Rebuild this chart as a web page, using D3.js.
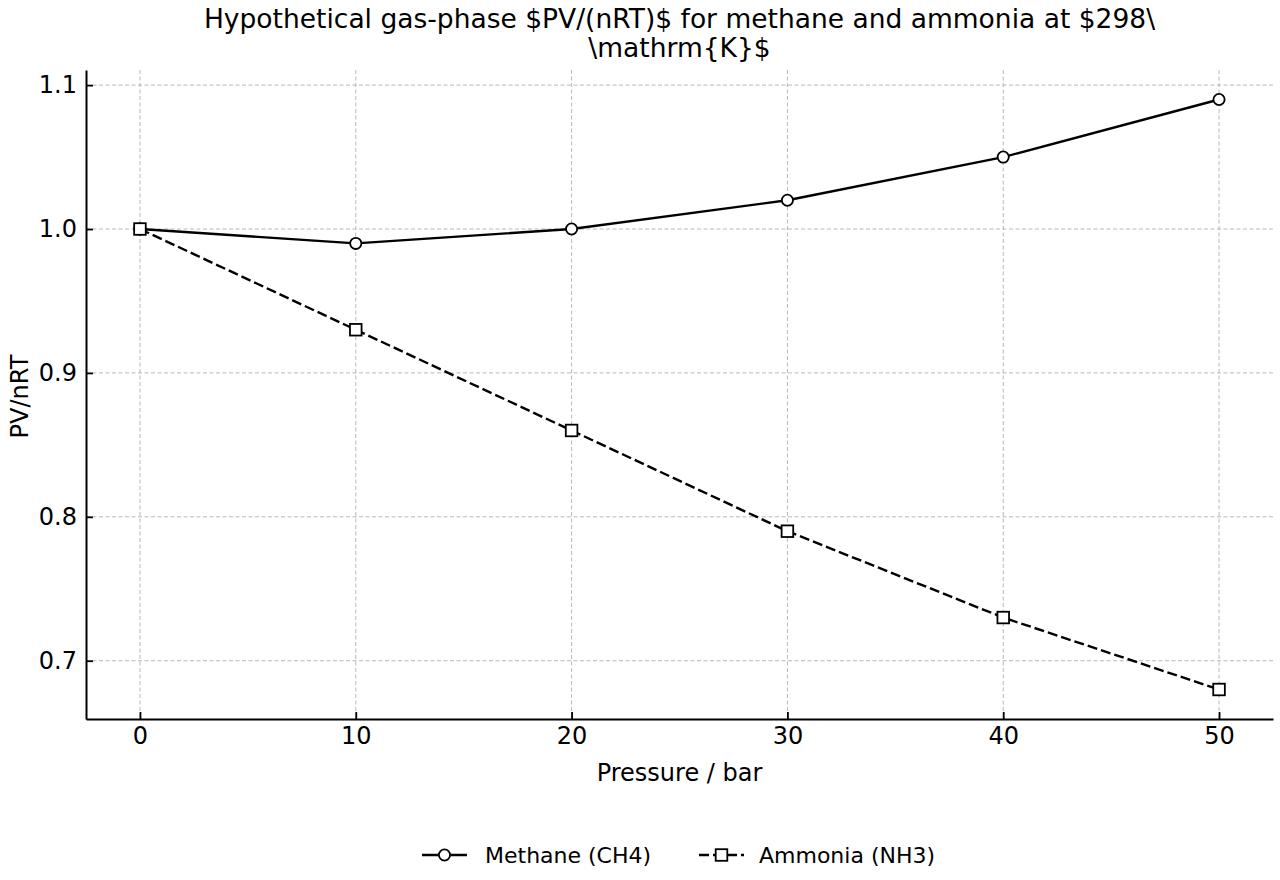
<!DOCTYPE html>
<html>
<head>
<meta charset="utf-8">
<script src="https://cdn.jsdelivr.net/npm/d3@7"></script>
<style>
  body { margin: 0; background: #fff; }
  svg text { font-family: "DejaVu Sans", sans-serif; fill: #000; }
</style>
</head>
<body>
<div id="chart"></div>
<script>
// 資料
const pressures = [0, 10, 20, 30, 40, 50];
const methane = [1.00, 0.99, 1.00, 1.02, 1.05, 1.09];
const ammonia = [1.00, 0.93, 0.86, 0.79, 0.73, 0.68];
const xTicks = [0, 10, 20, 30, 40, 50];
const yTicks = [0.7, 0.8, 0.9, 1.0, 1.1];
const titleLines = ["Hypothetical gas-phase $PV/(nRT)$ for methane and ammonia at $298\\", "\\mathrm{K}$"];

const W = 1280, H = 880;
const margin = { left: 86, right: 7, top: 70, bottom: 161 };
const lineW = 2.4;
const dash = '10,4';

const svg = d3.select('#chart').append('svg')
    .attr('width', W)
    .attr('height', H);

const x = d3.scaleLinear().domain([-2.5, 52.5]).range([margin.left, W - margin.right]);
const y = d3.scaleLinear().domain([0.6595, 1.1105]).range([H - margin.bottom, margin.top]);

// 格線
const grid = svg.append('g').attr('class', 'grid');
xTicks.forEach(t => {
    grid.append('line')
        .attr('x1', x(t)).attr('x2', x(t))
        .attr('y1', margin.top).attr('y2', H - margin.bottom)
        .attr('stroke', '#b8b8b8').attr('stroke-width', 1)
        .attr('stroke-dasharray', '4,2.5');
});
yTicks.forEach(t => {
    grid.append('line')
        .attr('x1', margin.left).attr('x2', W - margin.right)
        .attr('y1', y(t)).attr('y2', y(t))
        .attr('stroke', '#b8b8b8').attr('stroke-width', 1)
        .attr('stroke-dasharray', '4,2.5');
});

// 座標軸 (刻度朝內)
const xAxis = svg.append('g')
    .attr('transform', `translate(0,${H - margin.bottom})`)
    .call(d3.axisBottom(x).tickValues(xTicks).tickSizeInner(-7).tickSizeOuter(0).tickPadding(8));
const yAxis = svg.append('g')
    .attr('transform', `translate(${margin.left},0)`)
    .call(d3.axisLeft(y).tickValues(yTicks).tickFormat(d3.format('.1f')).tickSizeInner(-7).tickSizeOuter(0).tickPadding(9));

[xAxis, yAxis].forEach(a => {
    a.attr('font-size', 24).attr('font-family', '"DejaVu Sans", sans-serif');
    a.select('.domain').attr('stroke', '#000').attr('stroke-width', 2);
    a.selectAll('.tick line').attr('stroke', '#000').attr('stroke-width', 1.8);
    a.selectAll('.tick text').attr('font-size', 24);
});

// 折線
const line = d3.line()
    .x((d, i) => x(pressures[i]))
    .y(d => y(d));

svg.append('path')
    .datum(methane)
    .attr('d', line)
    .attr('fill', 'none')
    .attr('stroke', '#000')
    .attr('stroke-width', lineW);

svg.append('path')
    .datum(ammonia)
    .attr('d', line)
    .attr('fill', 'none')
    .attr('stroke', '#000')
    .attr('stroke-width', lineW)
    .attr('stroke-dasharray', dash);

// 標記
svg.append('g').selectAll('circle')
    .data(methane)
    .enter()
    .append('circle')
    .attr('cx', (d, i) => x(pressures[i]))
    .attr('cy', d => y(d))
    .attr('r', 5.6)
    .attr('fill', '#fff')
    .attr('stroke', '#000')
    .attr('stroke-width', 1.8);

svg.append('g').selectAll('rect')
    .data(ammonia)
    .enter()
    .append('rect')
    .attr('x', (d, i) => x(pressures[i]) - 5.8)
    .attr('y', d => y(d) - 5.8)
    .attr('width', 11.6)
    .attr('height', 11.6)
    .attr('fill', '#fff')
    .attr('stroke', '#000')
    .attr('stroke-width', 1.8);

// 標題
const cx = (margin.left + W - margin.right) / 2;
svg.append('text')
    .attr('x', cx)
    .attr('y', 28)
    .attr('text-anchor', 'middle')
    .attr('font-size', 26.5)
    .selectAll('tspan')
    .data(titleLines)
    .enter()
    .append('tspan')
    .attr('x', cx)
    .attr('dy', (d, i) => i === 0 ? 0 : 28.5)
    .text(d => d);

// 軸標籤
svg.append('text')
    .attr('x', cx)
    .attr('y', 781)
    .attr('text-anchor', 'middle')
    .attr('font-size', 24)
    .text('Pressure / bar');

svg.append('text')
    .attr('transform', `translate(28,${(margin.top + H - margin.bottom) / 2 + 2}) rotate(-90)`)
    .attr('text-anchor', 'middle')
    .attr('font-size', 24)
    .text('PV/nRT');

// 圖例
const legend = svg.append('g').attr('transform', 'translate(0,855)');
const items = [
    { name: 'Methane (CH4)', x0: 422, tx: 485, marker: 'circle', dash: null },
    { name: 'Ammonia (NH3)', x0: 699, tx: 759, marker: 'rect', dash: dash }
];
items.forEach(it => {
    legend.append('line')
        .attr('x1', it.x0).attr('x2', it.x0 + 45)
        .attr('y1', 0).attr('y2', 0)
        .attr('stroke', '#000').attr('stroke-width', lineW)
        .attr('stroke-dasharray', it.dash);
    if (it.marker === 'circle') {
        legend.append('circle')
            .attr('cx', it.x0 + 22.5).attr('cy', 0).attr('r', 5.6)
            .attr('fill', '#fff').attr('stroke', '#000').attr('stroke-width', 1.8);
    } else {
        legend.append('rect')
            .attr('x', it.x0 + 22.5 - 5.8).attr('y', -5.8)
            .attr('width', 11.6).attr('height', 11.6)
            .attr('fill', '#fff').attr('stroke', '#000').attr('stroke-width', 1.8);
    }
    legend.append('text')
        .attr('x', it.tx)
        .attr('y', 8)
        .attr('font-size', 22)
        .text(it.name);
});
</script>
</body>
</html>
